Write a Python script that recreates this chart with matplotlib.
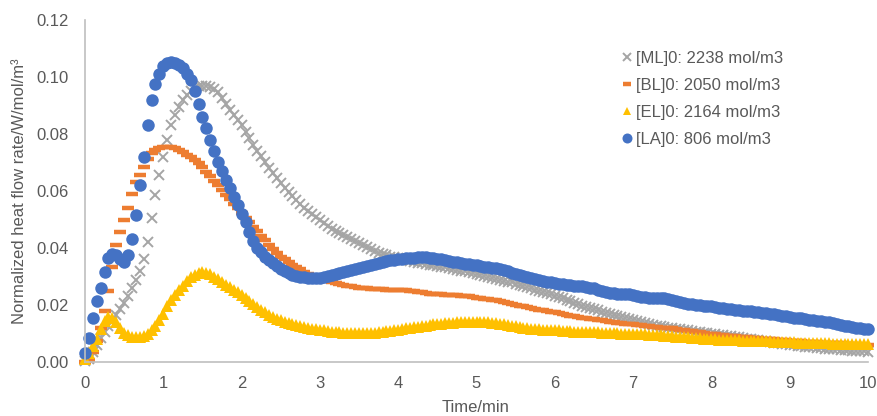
import numpy as np
import matplotlib
matplotlib.use("Agg")
import matplotlib.pyplot as plt

# sampling interval of the calorimeter traces (min)
dt = 0.05

# [ML]0: 2238 mol/m3
ml = [0.0003, 0.0012, 0.0035, 0.0060, 0.0083, 0.0105, 0.0125, 0.0145, 0.0165, 0.0186,
      0.0208, 0.0232, 0.0258, 0.0288, 0.0320, 0.0360, 0.0420, 0.0505, 0.0585, 0.0655,
      0.0720, 0.0780, 0.0830, 0.0865, 0.0895, 0.0920, 0.0938, 0.0952, 0.0962, 0.0967,
      0.0968, 0.0968, 0.0965, 0.0958, 0.0948, 0.0925, 0.0905, 0.0885, 0.0866, 0.0848,
      0.0830, 0.0808, 0.0785, 0.0763, 0.0742, 0.0722, 0.0702, 0.0682, 0.0662, 0.0645,
      0.0628, 0.0612, 0.0596, 0.0582, 0.0568, 0.0555, 0.0542, 0.0530, 0.0519, 0.0508,
      0.0497, 0.0487, 0.0477, 0.0468, 0.0460, 0.0452, 0.0445, 0.0438, 0.0431, 0.0424,
      0.0417, 0.0410, 0.0403, 0.0396, 0.0389, 0.0383, 0.0378, 0.0374, 0.0370, 0.0367,
      0.0364, 0.0361, 0.0358, 0.0355, 0.0352, 0.0349, 0.0346, 0.0343, 0.0341, 0.0339,
      0.0337, 0.0335, 0.0333, 0.0330, 0.0327, 0.0324, 0.0321, 0.0318, 0.0315, 0.0312,
      0.0309, 0.0306, 0.0302, 0.0298, 0.0295, 0.0291, 0.0288, 0.0285, 0.0282, 0.0279,
      0.0275, 0.0271, 0.0267, 0.0262, 0.0258, 0.0254, 0.0250, 0.0245, 0.0241, 0.0237,
      0.0233, 0.0228, 0.0223, 0.0218, 0.0213, 0.0208, 0.0203, 0.0198, 0.0194, 0.0190,
      0.0186, 0.0182, 0.0177, 0.0173, 0.0169, 0.0165, 0.0161, 0.0157, 0.0154, 0.0150,
      0.0147, 0.0144, 0.0140, 0.0137, 0.0134, 0.0131, 0.0128, 0.0125, 0.0123, 0.0121,
      0.0119, 0.0117, 0.0115, 0.0113, 0.0111, 0.0109, 0.0107, 0.0105, 0.0103, 0.0102,
      0.0100, 0.0098, 0.0096, 0.0094, 0.0092, 0.0090, 0.0088, 0.0086, 0.0084, 0.0082,
      0.0080, 0.0078, 0.0076, 0.0074, 0.0072, 0.0070, 0.0068, 0.0066, 0.0064, 0.0062,
      0.0060, 0.0058, 0.0057, 0.0055, 0.0054, 0.0052, 0.0051, 0.0050, 0.0048, 0.0047,
      0.0046, 0.0045, 0.0044, 0.0043, 0.0042, 0.0041, 0.0040, 0.0039, 0.0038, 0.0037,
      0.0036]

# [BL]0: 2050 mol/m3
bl = [0.0000, 0.0008, 0.0035, 0.0075, 0.0120, 0.0180, 0.0250, 0.0335, 0.0410, 0.0456,
      0.0498, 0.0540, 0.0590, 0.0630, 0.0656, 0.0685, 0.0712, 0.0732, 0.0745, 0.0751,
      0.0754, 0.0756, 0.0756, 0.0751, 0.0744, 0.0736, 0.0728, 0.0720, 0.0710, 0.0697,
      0.0683, 0.0668, 0.0652, 0.0636, 0.0620, 0.0603, 0.0587, 0.0571, 0.0555, 0.0539,
      0.0523, 0.0507, 0.0491, 0.0475, 0.0459, 0.0443, 0.0427, 0.0410, 0.0395, 0.0382,
      0.0370, 0.0360, 0.0351, 0.0342, 0.0333, 0.0325, 0.0317, 0.0309, 0.0302, 0.0296,
      0.0291, 0.0287, 0.0283, 0.0280, 0.0277, 0.0274, 0.0271, 0.0268, 0.0265, 0.0263,
      0.0261, 0.0259, 0.0258, 0.0257, 0.0256, 0.0255, 0.0255, 0.0254, 0.0254, 0.0253,
      0.0253, 0.0252, 0.0251, 0.0250, 0.0248, 0.0246, 0.0244, 0.0242, 0.0240, 0.0239,
      0.0238, 0.0237, 0.0236, 0.0235, 0.0235, 0.0234, 0.0233, 0.0232, 0.0230, 0.0228,
      0.0226, 0.0224, 0.0222, 0.0220, 0.0218, 0.0216, 0.0213, 0.0210, 0.0207, 0.0204,
      0.0201, 0.0198, 0.0195, 0.0192, 0.0189, 0.0186, 0.0184, 0.0181, 0.0179, 0.0177,
      0.0175, 0.0172, 0.0169, 0.0166, 0.0163, 0.0160, 0.0158, 0.0156, 0.0154, 0.0152,
      0.0150, 0.0148, 0.0146, 0.0144, 0.0142, 0.0140, 0.0138, 0.0136, 0.0135, 0.0134,
      0.0133, 0.0131, 0.0129, 0.0127, 0.0125, 0.0124, 0.0122, 0.0121, 0.0120, 0.0119,
      0.0118, 0.0116, 0.0114, 0.0112, 0.0110, 0.0108, 0.0106, 0.0104, 0.0102, 0.0100,
      0.0098, 0.0097, 0.0095, 0.0094, 0.0092, 0.0091, 0.0090, 0.0089, 0.0087, 0.0086,
      0.0085, 0.0084, 0.0083, 0.0082, 0.0081, 0.0080, 0.0079, 0.0078, 0.0077, 0.0076,
      0.0075, 0.0074, 0.0073, 0.0072, 0.0071, 0.0071, 0.0070, 0.0069, 0.0068, 0.0068,
      0.0067, 0.0066, 0.0065, 0.0065, 0.0064, 0.0063, 0.0062, 0.0062, 0.0061, 0.0060,
      0.0060]

# [EL]0: 2164 mol/m3
el = [0.0012, 0.0030, 0.0055, 0.0082, 0.0115, 0.0145, 0.0157, 0.0153, 0.0140, 0.0120,
      0.0102, 0.0093, 0.0089, 0.0087, 0.0088, 0.0092, 0.0100, 0.0111, 0.0125, 0.0148,
      0.0170, 0.0195, 0.0218, 0.0236, 0.0253, 0.0268, 0.0283, 0.0297, 0.0306, 0.0312,
      0.0315, 0.0314, 0.0308, 0.0300, 0.0291, 0.0280, 0.0271, 0.0262, 0.0254, 0.0245,
      0.0236, 0.0226, 0.0215, 0.0204, 0.0193, 0.0184, 0.0175, 0.0166, 0.0158, 0.0152,
      0.0147, 0.0142, 0.0138, 0.0134, 0.0130, 0.0126, 0.0122, 0.0119, 0.0117, 0.0115,
      0.0113, 0.0111, 0.0109, 0.0107, 0.0105, 0.0104, 0.0103, 0.0102, 0.0102, 0.0101,
      0.0101, 0.0101, 0.0101, 0.0102, 0.0103, 0.0104, 0.0106, 0.0108, 0.0110, 0.0112,
      0.0114, 0.0116, 0.0118, 0.0120, 0.0122, 0.0124, 0.0126, 0.0128, 0.0130, 0.0132,
      0.0134, 0.0135, 0.0136, 0.0137, 0.0138, 0.0139, 0.0140, 0.0140, 0.0141, 0.0141,
      0.0141, 0.0140, 0.0140, 0.0139, 0.0138, 0.0137, 0.0135, 0.0133, 0.0131, 0.0128,
      0.0125, 0.0122, 0.0120, 0.0118, 0.0117, 0.0116, 0.0115, 0.0114, 0.0113, 0.0113,
      0.0112, 0.0111, 0.0110, 0.0109, 0.0108, 0.0107, 0.0106, 0.0106, 0.0105, 0.0105,
      0.0104, 0.0104, 0.0103, 0.0103, 0.0102, 0.0102, 0.0101, 0.0100, 0.0100, 0.0099,
      0.0099, 0.0098, 0.0097, 0.0097, 0.0096, 0.0095, 0.0094, 0.0093, 0.0092, 0.0091,
      0.0090, 0.0089, 0.0088, 0.0087, 0.0086, 0.0085, 0.0084, 0.0083, 0.0082, 0.0081,
      0.0080, 0.0079, 0.0078, 0.0078, 0.0077, 0.0077, 0.0076, 0.0076, 0.0075, 0.0075,
      0.0074, 0.0074, 0.0073, 0.0073, 0.0072, 0.0072, 0.0071, 0.0071, 0.0070, 0.0070,
      0.0069, 0.0069, 0.0068, 0.0068, 0.0067, 0.0067, 0.0066, 0.0066, 0.0065, 0.0065,
      0.0065, 0.0064, 0.0064, 0.0064, 0.0063, 0.0063, 0.0063, 0.0062, 0.0062, 0.0062,
      0.0062]

# [LA]0: 806 mol/m3
la = [0.0030, 0.0085, 0.0155, 0.0215, 0.0260, 0.0315, 0.0365, 0.0380, 0.0375, 0.0360,
      0.0350, 0.0375, 0.0430, 0.0515, 0.0620, 0.0720, 0.0830, 0.0920, 0.0975, 0.1010,
      0.1040, 0.1050, 0.1052, 0.1050, 0.1042, 0.1030, 0.1012, 0.0990, 0.0950, 0.0905,
      0.0860, 0.0820, 0.0780, 0.0740, 0.0700, 0.0670, 0.0640, 0.0610, 0.0580, 0.0550,
      0.0520, 0.0490, 0.0455, 0.0425, 0.0400, 0.0385, 0.0370, 0.0358, 0.0348, 0.0338,
      0.0328, 0.0320, 0.0312, 0.0306, 0.0302, 0.0299, 0.0297, 0.0296, 0.0295, 0.0295,
      0.0296, 0.0298, 0.0301, 0.0304, 0.0308, 0.0312, 0.0316, 0.0320, 0.0324, 0.0327,
      0.0330, 0.0333, 0.0337, 0.0341, 0.0345, 0.0349, 0.0352, 0.0355, 0.0357, 0.0359,
      0.0360, 0.0362, 0.0364, 0.0365, 0.0366, 0.0367, 0.0367, 0.0367, 0.0366, 0.0365,
      0.0363, 0.0361, 0.0358, 0.0355, 0.0352, 0.0350, 0.0347, 0.0345, 0.0343, 0.0341,
      0.0339, 0.0337, 0.0335, 0.0333, 0.0331, 0.0329, 0.0326, 0.0322, 0.0318, 0.0314,
      0.0310, 0.0306, 0.0302, 0.0298, 0.0294, 0.0290, 0.0287, 0.0284, 0.0281, 0.0279,
      0.0277, 0.0275, 0.0273, 0.0271, 0.0269, 0.0268, 0.0266, 0.0265, 0.0263, 0.0261,
      0.0258, 0.0254, 0.0250, 0.0246, 0.0243, 0.0241, 0.0240, 0.0239, 0.0238, 0.0237,
      0.0235, 0.0232, 0.0229, 0.0227, 0.0226, 0.0226, 0.0226, 0.0225, 0.0223, 0.0220,
      0.0217, 0.0213, 0.0210, 0.0207, 0.0205, 0.0203, 0.0201, 0.0199, 0.0198, 0.0196,
      0.0195, 0.0193, 0.0191, 0.0189, 0.0187, 0.0185, 0.0183, 0.0181, 0.0180, 0.0179,
      0.0178, 0.0177, 0.0175, 0.0173, 0.0171, 0.0169, 0.0167, 0.0164, 0.0162, 0.0160,
      0.0158, 0.0156, 0.0155, 0.0153, 0.0151, 0.0149, 0.0147, 0.0145, 0.0143, 0.0141,
      0.0139, 0.0137, 0.0134, 0.0131, 0.0128, 0.0125, 0.0122, 0.0120, 0.0118, 0.0117,
      0.0116]

labels = ["[ML]0: 2238 mol/m3", "[BL]0: 2050 mol/m3",
          "[EL]0: 2164 mol/m3", "[LA]0: 806 mol/m3"]
x_ticks = list(range(0, 11))
y_ticks = [0.00, 0.02, 0.04, 0.06, 0.08, 0.10, 0.12]

plt.rcParams['font.family'] = ['Liberation Sans', 'DejaVu Sans']
text_col = '#595959'

fig = plt.figure(figsize=(8.77, 4.16), dpi=100)
ax = fig.add_axes([85 / 877, 54 / 416, 783 / 877, 342 / 416])

# marker styles for each series (Excel default palette)
styles = [
    dict(marker='x', color='#A5A5A5', ms=7, mew=1.4),
    dict(marker='_', color='#ED7D31', ms=8, mew=3.2),
    dict(marker='^', color='#FFC000', ms=8, mew=0),
    dict(marker='o', color='#4472C4', ms=9, mew=0),
]

for y, lab, st in zip([ml, bl, el, la], labels, styles):
    t = np.arange(len(y)) * dt
    ax.plot(t, y, linestyle='none', label=lab, clip_on=False, **st)

ax.set_xlim(0, 10)
ax.set_ylim(0, 0.12)
ax.set_xticks(x_ticks)
ax.set_yticks(y_ticks)
ax.set_yticklabels(['%.2f' % v for v in y_ticks])
ax.tick_params(length=0, labelsize=12, labelcolor=text_col)
ax.tick_params(axis='y', pad=12)
ax.tick_params(axis='x', pad=10)

for s in ['top', 'right']:
    ax.spines[s].set_visible(False)
for s in ['left', 'bottom']:
    ax.spines[s].set_color('#BFBFBF')
    ax.spines[s].set_linewidth(1.2)

fig.text(20 / 877, 1 - 191 / 416, 'Normalized heat flow rate/W/mol/m³',
         rotation=90, ha='center', va='center', fontsize=12, color=text_col)
fig.text(476 / 877, 4 / 416, 'Time/min', ha='center', va='baseline',
         fontsize=12, color=text_col)

leg = ax.legend(loc='upper left', bbox_to_anchor=(622 / 877, 1 - 51 / 416),
                bbox_transform=fig.transFigure, frameon=False, fontsize=12,
                handlelength=0.6, handletextpad=0.25, borderpad=0,
                labelspacing=0.72, borderaxespad=0, markerscale=0.8)
for txt in leg.get_texts():
    txt.set_color(text_col)

fig.savefig('out.png', dpi=100)
